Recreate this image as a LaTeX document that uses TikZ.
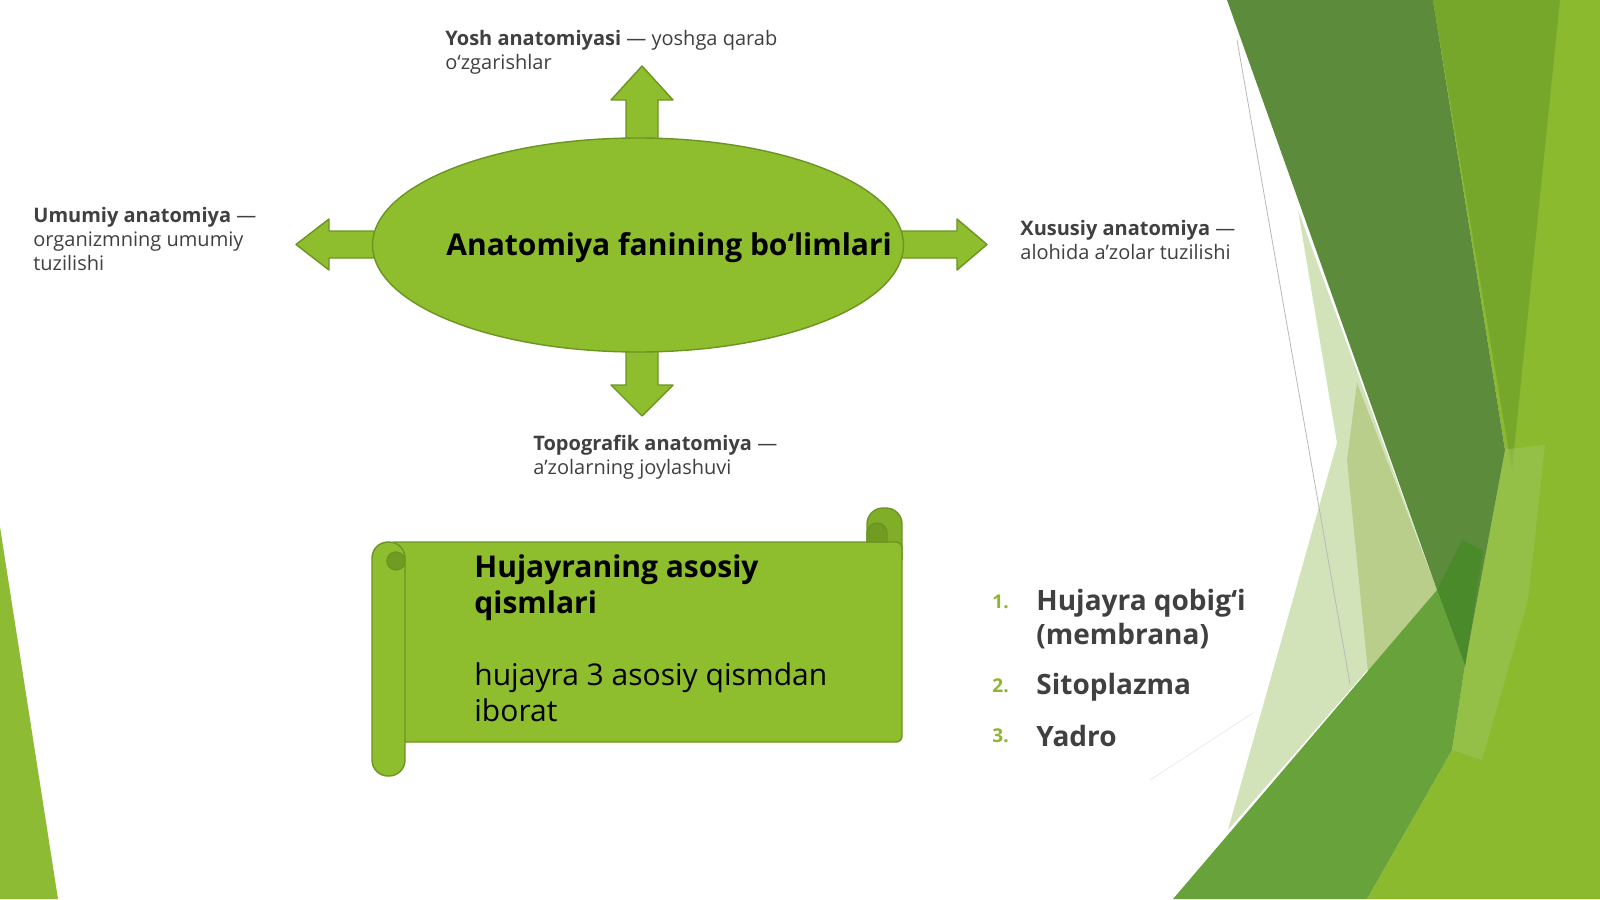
\documentclass[tikz,border=0pt]{standalone}
\usepackage{fontspec}
\setmainfont{Open Sans}
\usetikzlibrary{shapes.geometric}
\definecolor{bright}{RGB}{139,186,47}
\definecolor{olive}{RGB}{118,167,42}
\definecolor{darkg}{RGB}{91,139,59}
\definecolor{darkerg}{RGB}{74,138,43}
\definecolor{paleg}{RGB}{210,227,186}
\definecolor{paleg2}{RGB}{184,206,138}
\definecolor{medg}{RGB}{103,162,58}
\definecolor{lightstripe}{RGB}{158,198,92}
\definecolor{leftg}{RGB}{141,187,51}
\definecolor{shapefill}{RGB}{142,190,45}
\definecolor{shapeline}{RGB}{108,148,34}
\definecolor{rollfill}{RGB}{128,174,40}
\definecolor{curl}{RGB}{112,156,34}
\definecolor{labeltext}{RGB}{64,64,64}
\definecolor{numg}{RGB}{141,181,46}
\tikzset{
  blockshape/.style={fill=shapefill, draw=shapeline, line width=0.7pt, line join=round},
  label/.style={anchor=west, inner sep=0pt, align=left, text=labeltext, font=\fontsize{10}{12}\selectfont},
  listitem/.style={anchor=west, inner sep=0pt, align=left, text=labeltext, font=\fontsize{14}{17}\selectfont\bfseries},
  listnum/.style={anchor=west, inner sep=0pt, text=numg, font=\fontsize{9.5}{12}\selectfont\bfseries},
  scrolltext/.style={anchor=west, inner sep=0pt, align=left, text=black, font=\fontsize{15}{18}\selectfont}
}
\begin{document}
\begin{tikzpicture}[x=0.5pt,y=-0.5pt]
\useasboundingbox (0,0) rectangle (1600,899);
\fill[white] (0,0) rectangle (1600,899);
% decorative background shapes
\fill[leftg] (0,527) -- (58,899) -- (0,899) -- cycle;
\fill[bright] (1433,0) -- (1600,0) -- (1600,899) -- (1367,899) -- (1452,750) -- (1465,665) -- (1505,450) -- cycle;
\fill[olive] (1433,0) -- (1560,0) -- (1512,470) -- cycle;
\fill[lightstripe, opacity=0.55] (1500,450) -- (1545,445) -- (1528,600) -- (1482,760) -- (1452,750) -- (1465,665) -- cycle;
\fill[paleg] (1298,210) -- (1437,590) -- (1228,830) -- (1337,443) -- cycle;
\fill[paleg2] (1357,383) -- (1437,590) -- (1368,672) -- (1347,460) -- cycle;
\fill[darkg] (1227,0) -- (1433,0) -- (1505,450) -- (1465,665) -- (1437,590) -- cycle;
\fill[darkerg] (1437,590) -- (1462,540) -- (1483,550) -- (1465,667) -- cycle;
\draw[gray!55, line width=0.4pt] (1237,40) -- (1350,684);
\draw[gray!15, line width=0.4pt] (1150,780) -- (1253,713);
\fill[medg] (1437,590) -- (1465,665) -- (1452,750) -- (1367,899) -- (1173,899) -- cycle;
% block arrows
\filldraw[blockshape] (642,66) -- (673,100) -- (658,100) -- (658,385) -- (673,385) -- (642,416) -- (611,385) -- (626,385) -- (626,100) -- (611,100) -- cycle;
\filldraw[blockshape] (296,244.5) -- (329,219) -- (329,231) -- (957,231) -- (957,219) -- (987,244.5) -- (957,270) -- (957,258) -- (329,258) -- (329,270) -- cycle;
% central ellipse
\node[ellipse, blockshape, minimum width=265.5pt, minimum height=107pt, inner sep=0pt] (ell) at (638,245) {};
\node[anchor=west, inner sep=0pt, font=\fontsize{15}{17}\selectfont\bfseries, text=black] (title) at (446,248) {Anatomiya fanining bo‘limlari};
% labels
\node[label] (yosh) at (445,52.5) {\textbf{Yosh anatomiyasi} — yoshga qarab\\o‘zgarishlar};
\node[label] (umumiy) at (33,238.5) {\textbf{Umumiy anatomiya} —\\organizmning umumiy\\tuzilishi};
\node[label] (xususiy) at (1020,239.5) {\textbf{Xususiy anatomiya} —\\alohida a’zolar tuzilishi};
\node[label] (topo) at (533,457.5) {\textbf{Topografik anatomiya} —\\a’zolarning joylashuvi};
% scroll
\filldraw[fill=rollfill, draw=shapeline, line width=0.7pt, rounded corners=8pt] (867,560) -- (867,508) -- (902,508) -- (902,560);
\filldraw[blockshape, rounded corners=3pt] (389,542) -- (902,542) -- (902,742) -- (389,742) -- cycle;
\filldraw[fill=curl, draw=shapeline, line width=0.7pt] (867,542) -- (867,533) arc[start angle=180, end angle=0, radius=5pt] -- (887,542) -- cycle;
\filldraw[blockshape, rounded corners=8pt] (372,542) rectangle (405,776);
\filldraw[fill=curl, draw=shapeline, line width=0.7pt] (396,561) circle[radius=4.5pt];
\node[scrolltext, font=\fontsize{15}{18}\selectfont\bfseries] (stitle) at (474,588) {Hujayraning asosiy\\qismlari};
\node[scrolltext] (sbody) at (474,692) {hujayra 3 asosiy qismdan\\iborat};
% list
\node[listnum] (n1) at (992,602) {1.};
\node[listitem] (i1) at (1036,619) {Hujayra qobig‘i\\(membrana)};
\node[listnum] (n2) at (992,686) {2.};
\node[listitem] (i2) at (1036,687) {Sitoplazma};
\node[listnum] (n3) at (992,736) {3.};
\node[listitem] (i3) at (1036,736) {Yadro};
\end{tikzpicture}
\end{document}
